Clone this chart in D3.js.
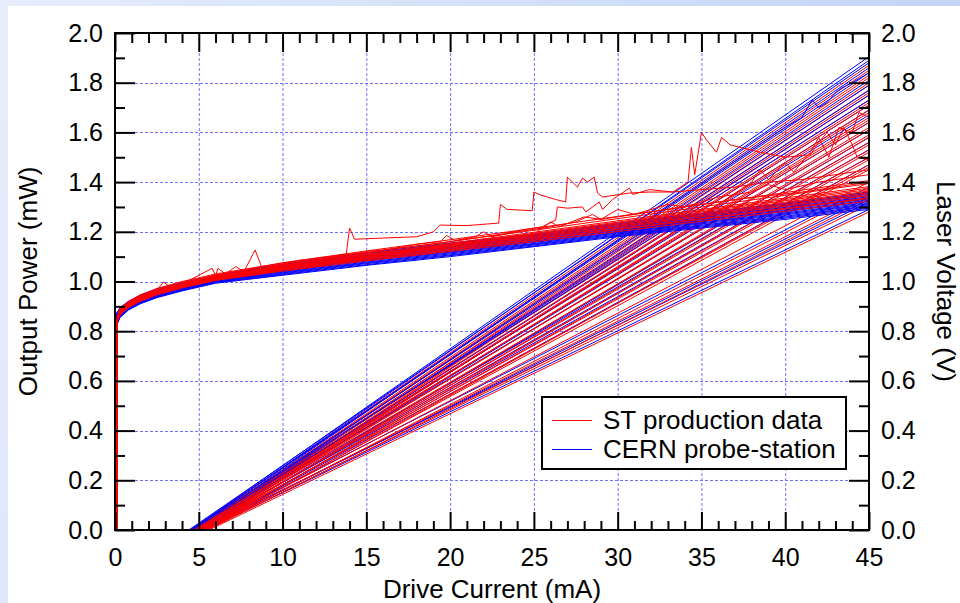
<!DOCTYPE html>
<html><head><meta charset="utf-8">
<script src="https://cdn.jsdelivr.net/npm/d3@7"></script>
<style>
html,body{margin:0;padding:0;background:#fff;}
svg{display:block;font-family:"Liberation Sans",Arial,Helvetica,sans-serif;}
</style></head>
<body><svg id="chart" width="960" height="603"></svg>
<script>
// ---------- DATA ----------
const xTicks = [0, 5, 10, 15, 20, 25, 30, 35, 40, 45];
const yTicks = [0.0, 0.2, 0.4, 0.6, 0.8, 1.0, 1.2, 1.4, 1.6, 1.8, 2.0];
const xTitle = "Drive Current (mA)";
const yTitleLeft = "Output Power (mW)";
const yTitleRight = "Laser Voltage (V)";
const legendLabels = ["ST production data", "CERN probe-station"];

// L-I curves: threshold current (mA) and output power at 45 mA (mW)
const cernThreshold = [4.5,4.6,4.4,4.7,4.5,4.8,4.6,4.9,4.7,4.5,4.8,5.0,4.6,4.9,4.7,5.1,4.8,5.0,4.9,5.2,5.0,5.3,5.1,5.4];
const cernPower45   = [1.905,1.89,1.88,1.86,1.84,1.81,1.79,1.77,1.75,1.73,1.71,1.69,1.67,1.64,1.61,1.58,1.56,1.53,1.50,1.47,1.38,1.34,1.32,1.29];
const stThreshold = [4.6,4.5,4.7,4.8,4.6,4.9,4.7,4.8,5.0,4.6,4.9,4.7,5.0,4.8,5.1,4.9,4.7,5.0,4.8,5.2,4.9,5.1,5.0,5.3,4.9,5.2,5.1,5.4,5.0,5.3,5.2,5.4,5.3,5.5,5.4,5.6];
const stPower45   = [1.87,1.85,1.83,1.82,1.80,1.79,1.77,1.76,1.75,1.73,1.72,1.71,1.69,1.68,1.66,1.65,1.64,1.62,1.61,1.59,1.58,1.56,1.55,1.53,1.52,1.50,1.49,1.47,1.46,1.45,1.40,1.37,1.35,1.33,1.31,1.28];

// noisy L-I curves [current, power]
const cernNoisyLI = [[0,0],[4.5,0],[40,1.62],[41,1.66],[41.6,1.73],[42,1.70],[42.5,1.72],[43,1.76],[43.4,1.78],[44,1.80],[45,1.84]];
const stNoisyLI = [[0,0],[4.8,0],[30,1.06],[36,1.31],[38,1.40],[38.5,1.45],[39,1.41],[40,1.48],[40.5,1.44],[41.5,1.52],[42,1.58],[42.6,1.50],[43.2,1.62],[44,1.60],[44.4,1.68],[45,1.66]];

// V-I curves: currents (mA) and voltages (V)
const cernCurrent = [0, 0.08, 0.3, 0.8, 1.5, 2.5, 4, 6, 10, 15, 20, 25, 30, 35, 40, 45];
const stCurrent   = [0.12, 0.14, 0.3, 0.8, 1.5, 2.5, 4, 6, 10, 15, 20, 25, 30, 35, 40, 45];
const cernVoltage = [
[0,0.82,0.855,0.885,0.910,0.935,0.962,0.993,1.025,1.065,1.100,1.140,1.180,1.215,1.250,1.290],
[0,0.82,0.858,0.887,0.912,0.937,0.964,0.995,1.028,1.068,1.104,1.143,1.184,1.219,1.255,1.295],
[0,0.83,0.860,0.889,0.914,0.939,0.966,0.997,1.031,1.072,1.107,1.147,1.187,1.223,1.259,1.300],
[0,0.83,0.863,0.892,0.917,0.942,0.969,0.999,1.034,1.075,1.111,1.150,1.191,1.227,1.263,1.304],
[0,0.83,0.866,0.894,0.919,0.944,0.971,1.001,1.037,1.078,1.115,1.153,1.195,1.232,1.268,1.309],
[0,0.84,0.868,0.896,0.921,0.946,0.973,1.003,1.040,1.082,1.118,1.157,1.198,1.236,1.272,1.313],
[0,0.84,0.871,0.899,0.924,0.949,0.975,1.005,1.043,1.085,1.122,1.160,1.202,1.240,1.276,1.318],
[0,0.84,0.874,0.901,0.926,0.951,0.978,1.007,1.046,1.088,1.126,1.163,1.206,1.244,1.281,1.323],
[0,0.85,0.876,0.903,0.928,0.953,0.980,1.009,1.049,1.092,1.129,1.167,1.209,1.248,1.285,1.327],
[0,0.85,0.879,0.906,0.931,0.956,0.982,1.011,1.052,1.095,1.133,1.170,1.213,1.252,1.289,1.332],
[0,0.85,0.882,0.908,0.933,0.958,0.985,1.013,1.055,1.098,1.137,1.173,1.217,1.256,1.294,1.337],
[0,0.86,0.884,0.910,0.935,0.960,0.987,1.015,1.058,1.102,1.140,1.177,1.220,1.260,1.298,1.341],
[0,0.86,0.887,0.913,0.938,0.963,0.989,1.017,1.061,1.105,1.144,1.180,1.224,1.264,1.302,1.346],
[0,0.86,0.890,0.915,0.940,0.965,0.991,1.019,1.064,1.108,1.148,1.183,1.228,1.268,1.307,1.351],
[0,0.87,0.892,0.917,0.942,0.967,0.993,1.021,1.067,1.112,1.151,1.187,1.231,1.272,1.311,1.355],
[0,0.87,0.895,0.920,0.945,0.970,0.995,1.025,1.070,1.115,1.155,1.190,1.235,1.275,1.315,1.360]
];
const stVoltage = [
[0,0.84,0.868,0.897,0.922,0.948,0.976,1.006,1.045,1.087,1.126,1.166,1.208,1.250,1.292,1.334],
[0,0.84,0.872,0.900,0.926,0.952,0.980,1.010,1.050,1.093,1.133,1.174,1.217,1.260,1.303,1.346],
[0,0.85,0.876,0.904,0.930,0.956,0.984,1.014,1.055,1.099,1.140,1.182,1.226,1.270,1.314,1.358],
[0,0.84,0.870,0.899,0.924,0.950,0.978,1.008,1.048,1.090,1.129,1.169,1.211,1.253,1.295,1.337],
[0,0.85,0.880,0.908,0.934,0.960,0.988,1.018,1.060,1.105,1.147,1.190,1.235,1.280,1.325,1.370],
[0,0.86,0.884,0.912,0.938,0.964,0.992,1.022,1.065,1.111,1.154,1.198,1.244,1.290,1.336,1.382],
[0,0.84,0.866,0.895,0.920,0.946,0.974,1.004,1.042,1.083,1.121,1.160,1.201,1.242,1.283,1.324],
[0,0.85,0.878,0.906,0.932,0.958,0.986,1.016,1.057,1.102,1.143,1.186,1.230,1.275,1.319,1.364],
[0,0.86,0.888,0.916,0.942,0.968,0.996,1.026,1.070,1.117,1.161,1.206,1.253,1.300,1.347,1.394],
[0,0.84,0.874,0.902,0.928,0.954,0.982,1.012,1.052,1.096,1.136,1.178,1.221,1.265,1.308,1.352],
[0,0.86,0.892,0.920,0.946,0.972,1.000,1.030,1.075,1.123,1.168,1.214,1.262,1.310,1.358,1.406],
[0,0.85,0.882,0.910,0.936,0.962,0.990,1.020,1.062,1.108,1.150,1.194,1.239,1.285,1.330,1.376]
];
// noisy ST V-I curves [current, voltage]
const stNoisyA = [[0.12,0],[0.14,0.85],[0.3,0.885],[0.8,0.912],[1.5,0.938],[2.5,0.962],[4,0.99],[6,1.025],[8,1.05],[10,1.075],[13.8,1.11],[14,1.215],[14.3,1.17],[16,1.175],[18,1.18],[19,1.2],[19.4,1.227],[21,1.225],[22.9,1.235],[23,1.31],[23.4,1.29],[24.9,1.285],[25,1.36],[25.4,1.348],[26.3,1.33],[26.9,1.32],[27,1.42],[27.3,1.40],[27.6,1.38],[27.9,1.416],[28.2,1.40],[28.6,1.42],[28.8,1.356],[29.1,1.34],[30.7,1.356],[31.9,1.36],[33.3,1.36],[34.2,1.40],[34.4,1.54],[34.6,1.43],[35,1.60],[35.3,1.57],[35.9,1.52],[36.2,1.58],[36.7,1.55],[37.3,1.54],[38.5,1.52],[40,1.5],[41.5,1.51],[42,1.56],[42.5,1.60],[43,1.55],[43.5,1.62],[44,1.55],[44.3,1.50],[45,1.49]];
const stNoisyB = [[0.12,0],[0.14,0.86],[0.3,0.89],[0.8,0.915],[1.5,0.94],[2.5,0.965],[2.9,0.998],[3.3,0.978],[4,0.99],[5.8,1.053],[6,1.025],[6.15,1.053],[6.6,1.03],[7.2,1.06],[7.7,1.04],[8.36,1.127],[8.8,1.05],[11,1.085],[13,1.10],[15,1.12],[17,1.135],[19,1.15],[21,1.17],[23,1.19],[24.5,1.21],[25.5,1.22],[26.3,1.247],[26.4,1.30],[27,1.295],[27.9,1.30],[28.1,1.28],[28.9,1.32],[29.1,1.29],[29.7,1.33],[30.7,1.376],[30.9,1.35],[31.9,1.37],[33.3,1.36],[35,1.37],[37,1.38],[39,1.40],[41,1.41],[43,1.43],[45,1.45]];
const stNoisyC = [[0.12,0],[0.14,0.85],[0.3,0.885],[0.8,0.91],[1.5,0.935],[2.5,0.962],[4,0.99],[6,1.02],[8,1.04],[10,1.065],[12,1.085],[14,1.105],[16,1.125],[18,1.15],[19.4,1.16],[19.8,1.185],[20.3,1.165],[21.5,1.18],[22,1.2],[22.5,1.18],[24,1.2],[26,1.22],[27.5,1.24],[28.5,1.27],[29,1.25],[31,1.27],[33,1.29],[35,1.31],[37,1.33],[39,1.345],[41,1.36],[43,1.38],[45,1.40]];
const stNoisyD = [[0.12,0],[0.14,0.85],[0.3,0.88],[0.8,0.905],[1.5,0.93],[2.5,0.957],[4,0.985],[6,1.015],[10,1.055],[15,1.10],[20,1.145],[25,1.19],[26,1.24],[26.5,1.22],[28,1.26],[29,1.25],[30,1.29],[31,1.27],[33,1.31],[34,1.30],[36,1.34],[38,1.36],[39,1.39],[40,1.37],[42,1.40],[45,1.43]];

// ---------- DRAW ----------
const W = 960, H = 603;
const svg = d3.select("#chart");
const defs = svg.append("defs");
const g1 = defs.append("linearGradient").attr("id","bg").attr("x1","0").attr("y1","0").attr("x2","1").attr("y2","0.2");
g1.append("stop").attr("offset","0").attr("stop-color","#e6edfc");
g1.append("stop").attr("offset","1").attr("stop-color","#c2d3f7");
svg.append("rect").attr("width",W).attr("height",H).attr("fill","url(#bg)");
svg.append("rect").attr("x",8).attr("y",6).attr("width",W-8).attr("height",H-6).attr("fill","#fff");

const x = d3.scaleLinear().domain([0,45]).range([115,869]);
const y = d3.scaleLinear().domain([0,2]).range([530,33]);
const [x0,x1] = x.range(), [y0,y1] = y.range();

defs.append("clipPath").attr("id","clip").append("rect")
  .attr("x",x0).attr("y",y1).attr("width",x1-x0).attr("height",y0-y1);

// grid
const grid = svg.append("g").attr("stroke","#7070ff").attr("stroke-width",1).attr("stroke-dasharray","3,2");
grid.selectAll(".gx").data(xTicks.filter(v=>v>0&&v<45)).join("line")
  .attr("x1",d=>x(d)+0.5).attr("x2",d=>x(d)+0.5).attr("y1",y1).attr("y2",y0);
grid.selectAll(".gy").data(yTicks.filter(v=>v>0&&v<2)).join("line")
  .attr("y1",d=>Math.round(y(d))+0.5).attr("y2",d=>Math.round(y(d))+0.5).attr("x1",x0).attr("x2",x1);

// curves
const line = d3.line().x(d=>x(d[0])).y(d=>y(d[1]));
const plot = svg.append("g").attr("clip-path","url(#clip)").attr("fill","none").attr("stroke-width",1);
const blue = "#0000ff", red = "#ff0000";

function liCurve(th, p45){ return [[0,0],[th,0],[45,p45]]; }
// drawing order: L-I curves interleaved ST / CERN, then V-I (CERN then ST)
const curves = [];
const nLI = Math.max(stThreshold.length, cernThreshold.length);
for (let i=0;i<nLI;i++){
  if (i<stThreshold.length) curves.push({c:red, pts:liCurve(stThreshold[i], stPower45[i])});
  if (i<cernThreshold.length) curves.push({c:blue, pts:liCurve(cernThreshold[i], cernPower45[i])});
}
curves.push({c:red, pts:stNoisyLI});
curves.push({c:blue, pts:cernNoisyLI});
cernVoltage.forEach(v=>curves.push({c:blue, pts:cernCurrent.map((c,i)=>[c,v[i]])}));
stVoltage.forEach(v=>curves.push({c:red, pts:stCurrent.map((c,i)=>[c,v[i]])}));
[stNoisyA, stNoisyB, stNoisyC, stNoisyD].forEach(p=>curves.push({c:red, pts:p}));

plot.selectAll("path").data(curves).join("path").attr("d",d=>line(d.pts)).attr("stroke",d=>d.c);

// axes
const fmtY = d3.format(".1f");
const minorX = d3.range(0,46,1).filter(v=>v%5!==0);
const minorY = [0.1,0.3,0.5,0.7,0.9,1.1,1.3,1.5,1.7,1.9];
function styleAxis(sel){
  sel.select(".domain").remove();
  sel.selectAll(".tick line").attr("stroke","#000").attr("stroke-width",2);
  sel.selectAll(".tick text").attr("fill","#000").attr("font-size",25).attr("font-family","Liberation Sans, Arial, sans-serif");
}
function addAxis(axis, tx, ty){
  const s = svg.append("g").attr("transform",`translate(${tx},${ty})`).call(axis);
  styleAxis(s);
}
addAxis(d3.axisBottom(x).tickValues(xTicks).tickSize(-18).tickPadding(18).tickFormat(d3.format("d")), 0, y0);
addAxis(d3.axisBottom(x).tickValues(minorX).tickSize(-9).tickFormat(""), 0, y0);
addAxis(d3.axisTop(x).tickValues(xTicks).tickSize(-19).tickFormat(""), 0, y1);
addAxis(d3.axisTop(x).tickValues(minorX).tickSize(-10).tickFormat(""), 0, y1);
addAxis(d3.axisLeft(y).tickValues(yTicks).tickSize(-20).tickPadding(12).tickFormat(fmtY), x0, 0);
addAxis(d3.axisLeft(y).tickValues(minorY).tickSize(-10).tickFormat(""), x0, 0);
addAxis(d3.axisRight(y).tickValues(yTicks).tickSize(-20).tickPadding(12).tickFormat(fmtY), x1, 0);
addAxis(d3.axisRight(y).tickValues(minorY).tickSize(-10).tickFormat(""), x1, 0);

// frame
svg.append("rect").attr("x",x0).attr("y",y1).attr("width",x1-x0).attr("height",y0-y1)
  .attr("fill","none").attr("stroke","#000").attr("stroke-width",2);

// titles
svg.append("text").attr("x",(x0+x1)/2).attr("y",598).attr("text-anchor","middle")
  .attr("font-size",26).text(xTitle);
svg.append("text").attr("transform",`translate(37,${(y0+y1)/2}) rotate(-90)`).attr("text-anchor","middle")
  .attr("font-size",26).text(yTitleLeft);
svg.append("text").attr("transform",`translate(937,${(y0+y1)/2}) rotate(90)`).attr("text-anchor","middle")
  .attr("font-size",26).text(yTitleRight);

// legend
const lg = svg.append("g");
lg.append("rect").attr("x",542).attr("y",397).attr("width",304).attr("height",72)
  .attr("fill","#fff").attr("stroke","#000").attr("stroke-width",2);
const lgColors = [red, blue];
legendLabels.forEach((t,i)=>{
  const yy = 420 + i*29;
  lg.append("line").attr("x1",552).attr("x2",592).attr("y1",yy+0.5).attr("y2",yy+0.5)
    .attr("stroke",lgColors[i]).attr("stroke-width",1);
  lg.append("text").attr("x",603).attr("y",yy+9).attr("font-size",26).text(t);
});
</script></body></html>
